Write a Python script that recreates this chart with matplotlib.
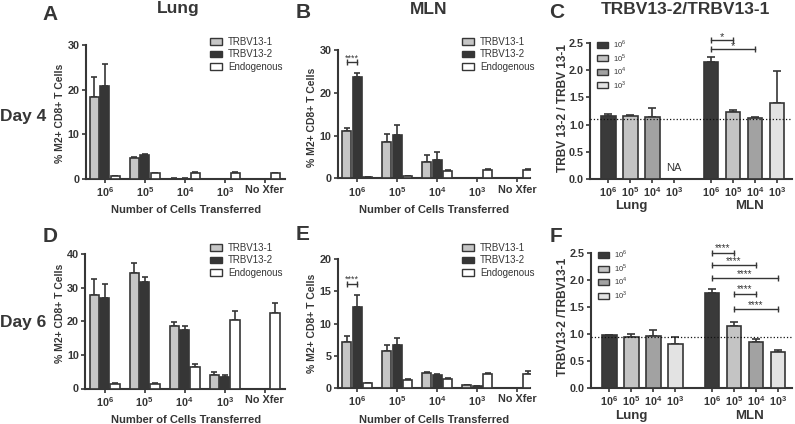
import numpy as np
import matplotlib
matplotlib.use('Agg')
import matplotlib.pyplot as plt
from matplotlib.patches import Patch

plt.rcParams['font.family'] = ['Liberation Sans', 'DejaVu Sans']
plt.rcParams['mathtext.fontset'] = 'custom'
plt.rcParams['mathtext.rm'] = 'Liberation Sans'
plt.rcParams['mathtext.bf'] = 'Liberation Sans:bold'

# ---- data ----
doses = [r'$\mathbf{10^6}$', r'$\mathbf{10^5}$', r'$\mathbf{10^4}$', r'$\mathbf{10^3}$']
count_ticks = doses + ['No Xfer']
series_names = ['TRBV13-1', 'TRBV13-2', 'Endogenous']
dose_names = [r'$10^6$', r'$10^5$', r'$10^4$', r'$10^3$']

# A: day 4 lung
a_t1 = [18.4, 4.6, 0.1, 0.0]
a_t1_err = [4.5, 0.3, 0.05, 0.0]
a_t2 = [20.9, 5.4, 0.1, 0.0]
a_t2_err = [4.8, 0.3, 0.05, 0.0]
a_endo = [0.6, 1.3, 1.4, 1.4, 1.3]
a_endo_err = [0.1, 0.1, 0.1, 0.1, 0.1]

# B: day 4 MLN
b_t1 = [11.1, 8.5, 3.9, 0.1]
b_t1_err = [0.6, 1.9, 1.7, 0.05]
b_t2 = [23.8, 10.2, 4.3, 0.1]
b_t2_err = [0.9, 2.2, 1.9, 0.05]
b_endo = [0.3, 0.6, 1.8, 2.0, 2.0]
b_endo_err = [0.05, 0.1, 0.2, 0.15, 0.15]

# C: day 4 ratio (lung 10^3 = NA)
c_lung = [1.155, 1.16, 1.135]
c_lung_err = [0.035, 0.02, 0.165]
c_mln = [2.155, 1.23, 1.12, 1.39]
c_mln_err = [0.095, 0.04, 0.02, 0.59]
c_ref = 1.105

# D: day 6 lung
d_t1 = [28.0, 34.4, 18.6, 4.1]
d_t1_err = [4.7, 3.1, 1.1, 0.9]
d_t2 = [27.0, 31.6, 17.5, 3.3]
d_t2_err = [4.2, 1.5, 1.1, 0.7]
d_endo = [1.3, 1.3, 6.3, 20.5, 22.5]
d_endo_err = [0.3, 0.2, 0.9, 2.5, 3.0]

# E: day 6 MLN
e_t1 = [7.1, 5.7, 2.4, 0.4]
e_t1_err = [0.9, 1.0, 0.15, 0.07]
e_t2 = [12.6, 6.6, 2.0, 0.26]
e_t2_err = [1.8, 1.2, 0.1, 0.05]
e_endo = [0.7, 1.25, 1.4, 2.1, 2.2]
e_endo_err = [0.05, 0.2, 0.15, 0.2, 0.4]

# F: day 6 ratio
f_lung = [0.98, 0.95, 0.97, 0.81]
f_lung_err = [0.01, 0.05, 0.11, 0.13]
f_mln = [1.76, 1.15, 0.85, 0.66]
f_mln_err = [0.08, 0.08, 0.06, 0.04]
f_ref = 0.95

# significance brackets: (from bar, to bar, height, label)
c_sig = [(0, 1, 2.56, '*'), (0, 2, 2.39, '*')]
f_sig = [(0, 1, 2.51, '****'), (0, 2, 2.28, '****'), (0, 3, 2.04, '****'),
         (1, 2, 1.75, '****'), (1, 3, 1.46, '****')]

# ---- style ----
INK = '#363636'
C_T1 = '#c6c6c6'
C_T2 = '#363636'
C_ENDO = '#ffffff'
DOSE_COLORS = ['#3a3a3a', '#c4c4c4', '#a2a2a2', '#e3e3e3']

W, H = 795, 424
fig = plt.figure(figsize=(W / 100, H / 100), dpi=100)


def box(l, r, t, b):
    return [l / W, 1 - b / H, (r - l) / W, (b - t) / H]


def ftext(x, y, s, **kw):
    kw.setdefault('ha', 'center')
    kw.setdefault('va', 'center')
    kw.setdefault('color', INK)
    fig.text(x / W, 1 - y / H, s, **kw)


def style_axes(ax):
    for s in ['top', 'right']:
        ax.spines[s].set_visible(False)
    for s in ['left', 'bottom']:
        ax.spines[s].set_linewidth(1.5)
        ax.spines[s].set_color(INK)
    ax.tick_params(direction='out', length=3, width=1.2, colors=INK,
                   labelsize=7.8, pad=1.5)
    for lab in ax.get_yticklabels() + ax.get_xticklabels():
        lab.set_fontweight('bold')


def bars(ax, x, y, err, color):
    ax.bar(x, y, width=0.23, color=color, edgecolor=INK, linewidth=1.2, zorder=3)
    ax.errorbar(x, y, yerr=[np.zeros(len(y)), err], fmt='none', ecolor=INK,
                elinewidth=1.2, capsize=2.4, capthick=1.2, zorder=2)


def bracket(ax, x0, x1, y, label, fs, dy):
    ax.plot([x0, x1], [y, y], color=INK, lw=1.0, marker='|', ms=4, mew=1.0,
            zorder=4, clip_on=False)
    ax.annotate(label, ((x0 + x1) / 2, y), xytext=(0, dy),
                textcoords='offset points', ha='center', va='bottom',
                fontsize=fs, color=INK, annotation_clip=False)


def count_panel(rect, t1, t1e, t2, t2e, endo, endoe, ymax, ystep, xl, sig=None):
    ax = fig.add_axes(box(*rect))
    x = np.arange(4)
    bars(ax, x - 0.26, t1, t1e, C_T1)
    bars(ax, x, t2, t2e, C_T2)
    bars(ax, np.arange(5) + 0.26, endo, endoe, C_ENDO)
    ax.set_ylim(0, ymax)
    ax.set_yticks(np.arange(0, ymax + 1, ystep))
    ax.set_xlim(xl, xl + (rect[1] - rect[0]) / 40.0)
    ax.set_xticks(np.arange(5))
    ax.set_xticklabels(count_ticks)
    style_axes(ax)
    if sig is not None:
        bracket(ax, -0.26, 0, sig[0], sig[1], 6.5, -0.5)
    handles = [Patch(facecolor=c, edgecolor=INK, linewidth=1.0)
               for c in [C_T1, C_T2, C_ENDO]]
    return ax, handles


def ratio_panel(rect, lung, lunge, mln, mlne, ref, sig):
    ax = fig.add_axes(box(*rect))
    xs_l = np.arange(len(lung))
    xs_m = np.arange(4) + 4.68
    ax.bar(xs_l, lung, width=0.68, color=DOSE_COLORS[:len(lung)], edgecolor=INK,
           linewidth=1.2, zorder=3)
    ax.errorbar(xs_l, lung, yerr=[np.zeros(len(lung)), lunge], fmt='none',
                ecolor=INK, elinewidth=1.2, capsize=3.2, capthick=1.2, zorder=2)
    ax.bar(xs_m, mln, width=0.68, color=DOSE_COLORS, edgecolor=INK,
           linewidth=1.2, zorder=3)
    ax.errorbar(xs_m, mln, yerr=[np.zeros(4), mlne], fmt='none',
                ecolor=INK, elinewidth=1.2, capsize=3.2, capthick=1.2, zorder=2)
    ax.axhline(ref, ls=':', color='#111111', lw=0.9, zorder=5)
    ax.set_ylim(0, 2.5)
    ax.set_yticks(np.arange(0, 2.51, 0.5))
    ax.yaxis.set_major_formatter(matplotlib.ticker.FormatStrFormatter('%.1f'))
    ax.set_xlim(-0.82, -0.82 + (rect[1] - rect[0]) / 22.0)
    ax.set_xticks(list(np.arange(4)) + list(xs_m))
    ax.set_xticklabels(doses + doses)
    style_axes(ax)
    for i, j, y, lab in sig:
        if lab == '*':
            bracket(ax, xs_m[i], xs_m[j], y, lab, 8, -1.5)
        else:
            bracket(ax, xs_m[i], xs_m[j], y, lab, 7, -0.5)
    handles = [Patch(facecolor=c, edgecolor=INK, linewidth=1.0) for c in DOSE_COLORS]
    ax.legend(handles, dose_names, loc='upper left',
              bbox_to_anchor=((rect[0] + 7) / W, 1 - (rect[2] - 5) / H),
              bbox_transform=fig.transFigure, frameon=False, fontsize=5.5,
              handlelength=1.5, handleheight=0.85, handletextpad=0.6,
              labelspacing=0.2, borderpad=0, borderaxespad=0, labelcolor=INK)
    return ax


def count_legend(ax, handles, x, y):
    ax.legend(handles, series_names, loc='upper left',
              bbox_to_anchor=(x / W, 1 - y / H), bbox_transform=fig.transFigure,
              frameon=False, fontsize=7, handlelength=1.25, handleheight=0.7,
              handletextpad=0.6, labelspacing=0.25, borderpad=0,
              borderaxespad=0, labelcolor=INK)


# ---- panels ----
axA, hA = count_panel((86, 285, 45, 179), a_t1, a_t1_err, a_t2, a_t2_err,
                      a_endo, a_endo_err, 30, 10, -0.47)
count_legend(axA, hA, 210, 37)
axB, hB = count_panel((338, 530, 50, 178.5), b_t1, b_t1_err, b_t2, b_t2_err,
                      b_endo, b_endo_err, 30, 10, -0.48, sig=(27.3, '****'))
count_legend(axB, hB, 462, 37)
axC = ratio_panel((590, 792, 43, 179), c_lung, c_lung_err, c_mln, c_mln_err,
                  c_ref, c_sig)
axC.text(3, 0.2, 'NA', ha='center', va='center', fontsize=8, color=INK)

axD, hD = count_panel((85, 285, 254.3, 388.5), d_t1, d_t1_err, d_t2, d_t2_err,
                      d_endo, d_endo_err, 40, 10, -0.49)
count_legend(axD, hD, 210, 243)
axE, hE = count_panel((338, 530, 259, 388), e_t1, e_t1_err, e_t2, e_t2_err,
                      e_endo, e_endo_err, 20, 5, -0.48, sig=(16.2, '****'))
count_legend(axE, hE, 462, 243)
axF = ratio_panel((591, 792, 253.3, 388), f_lung, f_lung_err, f_mln, f_mln_err,
                  f_ref, f_sig)

# ---- labels ----
ftext(50, 14, 'A', fontsize=15, fontweight='bold')
ftext(178, 9, 'Lung', fontsize=12.5, fontweight='bold')
ftext(303, 13, 'B', fontsize=15, fontweight='bold')
ftext(429, 10, 'MLN', fontsize=12.5, fontweight='bold')
ftext(557, 13, 'C', fontsize=15, fontweight='bold')
ftext(685, 10, 'TRBV13-2/TRBV13-1', fontsize=12.5, fontweight='bold')
ftext(23, 116, 'Day 4', fontsize=12.5, fontweight='bold')
ftext(23, 322, 'Day 6', fontsize=12.5, fontweight='bold')
ftext(50, 237, 'D', fontsize=15, fontweight='bold')
ftext(303, 235, 'E', fontsize=15, fontweight='bold')
ftext(556, 237, 'F', fontsize=15, fontweight='bold')

for x, y in [(186, 210), (434, 210), (186, 420), (434, 420)]:
    ftext(x, y, 'Number of Cells Transferred', fontsize=8, fontweight='bold')
for x, y in [(60, 113), (312, 117), (60, 313), (312, 323)]:
    ftext(x, y, '% M2+ CD8+ T Cells', fontsize=7.5, fontweight='bold', rotation=90)
ftext(563, 108, 'TRBV 13-2 / TRBV 13-1', fontsize=8.6, fontweight='bold', rotation=90)
ftext(563, 317, 'TRBV13-2 /TRBV13-1', fontsize=8.6, fontweight='bold', rotation=90)
for y in [206, 416]:
    ftext(631, y, 'Lung', fontsize=9.5, fontweight='bold')
    ftext(750, y, 'MLN', fontsize=9.5, fontweight='bold')

fig.savefig('out.png', dpi=100)
